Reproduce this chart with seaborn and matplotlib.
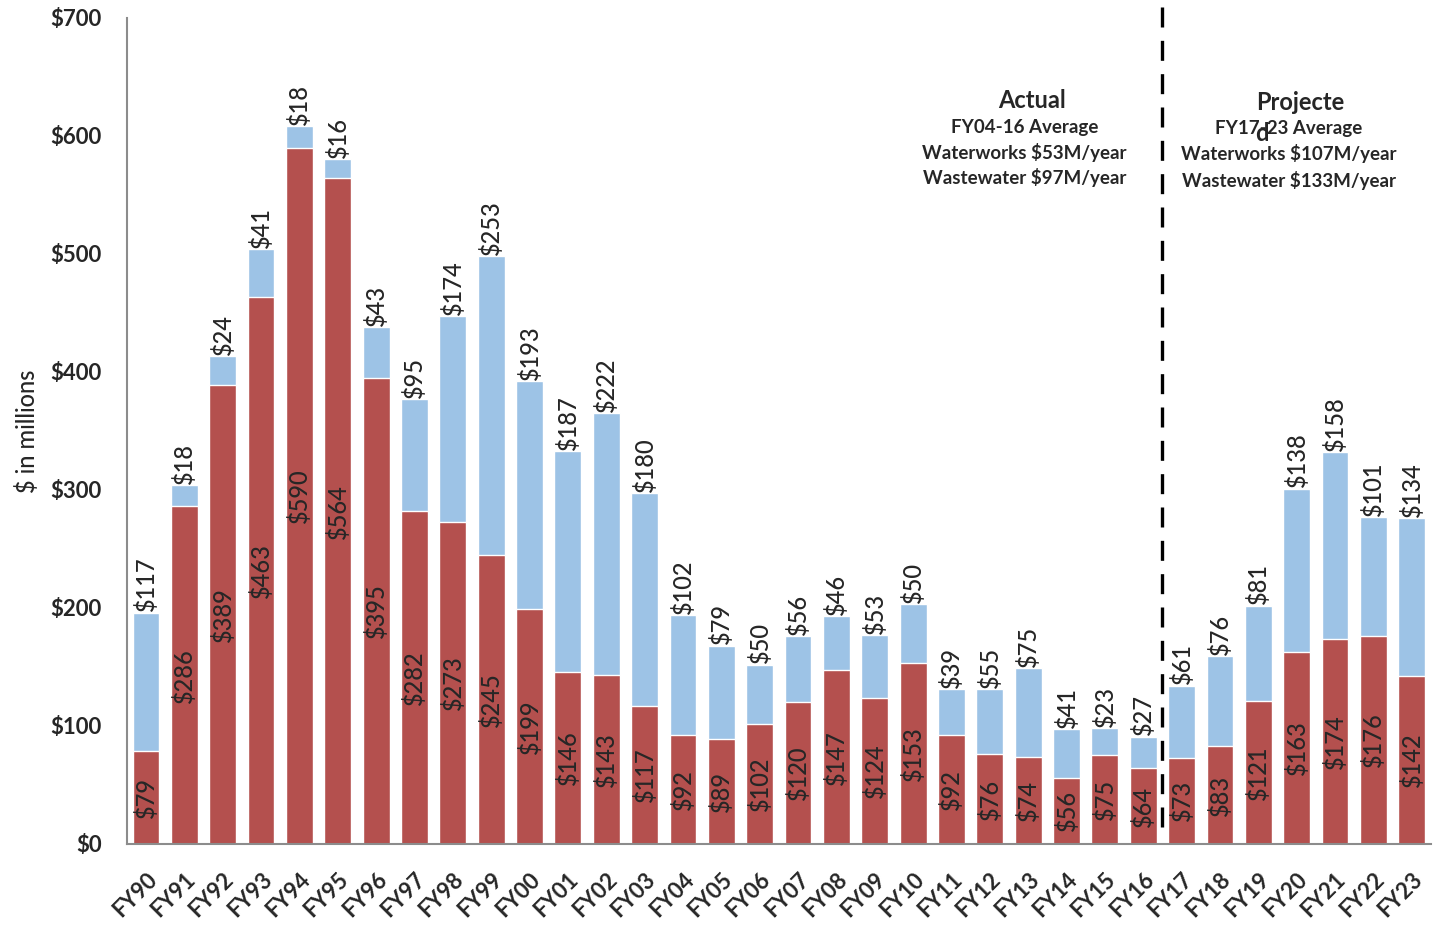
import numpy as np
import pandas as pd
import seaborn as sns
import matplotlib.pyplot as plt
from matplotlib.ticker import FuncFormatter, FixedLocator

sns.set_style("white")
plt.rcParams['font.family'] = ['Lato', 'DejaVu Sans']

years = ["FY90", "FY91", "FY92", "FY93", "FY94", "FY95", "FY96", "FY97", "FY98", "FY99",
         "FY00", "FY01", "FY02", "FY03", "FY04", "FY05", "FY06", "FY07", "FY08", "FY09",
         "FY10", "FY11", "FY12", "FY13", "FY14", "FY15", "FY16", "FY17", "FY18", "FY19",
         "FY20", "FY21", "FY22", "FY23"]
wastewater = [79, 286, 389, 463, 590, 564, 395, 282, 273, 245,
              199, 146, 143, 117, 92, 89, 102, 120, 147, 124,
              153, 92, 76, 74, 56, 75, 64, 73, 83, 121,
              163, 174, 176, 142]
waterworks = [117, 18, 24, 41, 18, 16, 43, 95, 174, 253,
              193, 187, 222, 180, 102, 79, 50, 56, 46, 53,
              50, 39, 55, 75, 41, 23, 27, 61, 76, 81,
              138, 158, 101, 134]

df = pd.DataFrame({"year": years, "wastewater": wastewater, "waterworks": waterworks})
df["total"] = df["wastewater"] + df["waterworks"]

red = "#B4504E"
blue = "#9DC3E6"

fig = plt.figure(figsize=(14.41, 9.3), dpi=100)
ax = fig.add_axes([0.088, 0.0925, 0.905, 0.8885])

sns.barplot(data=df, x="year", y="total", color=blue, width=0.7, saturation=1, ax=ax)
sns.barplot(data=df, x="year", y="wastewater", color=red, width=0.7, saturation=1, ax=ax)

blue_bars = ax.containers[0]
red_bars = ax.containers[1]
ax.bar_label(blue_bars, labels=[f"${v}" for v in waterworks], rotation=90,
             padding=1, fontsize=17, fontweight="medium")
ax.bar_label(red_bars, labels=[f"${v}" for v in wastewater], rotation=90,
             label_type="center", fontsize=17, fontweight="medium")

ax.set_ylim(0, 700)
ax.set_xlim(-0.5, len(years) - 0.5)
ax.yaxis.set_major_locator(FixedLocator(range(0, 701, 100)))
ax.yaxis.set_major_formatter(FuncFormatter(lambda v, p: f"${int(v)}"))
ax.set_ylabel("$ in millions", fontsize=17, labelpad=8, fontweight="medium")
ax.set_xlabel("")

for lab in ax.get_yticklabels():
    lab.set_fontweight("bold")
    lab.set_fontsize(16)
ax.tick_params(axis="y", length=6, color="#8c8c8c", width=1.2, pad=12)

ax.set_xticks(range(len(years)))
ax.set_xticklabels(years, rotation=45, ha="right", rotation_mode="anchor",
                   fontsize=16, fontweight="bold")
ax.tick_params(axis="x", which="major", length=0, pad=18)
ax.xaxis.set_minor_locator(FixedLocator(np.arange(-0.5, len(years), 2)))
ax.tick_params(axis="x", which="minor", length=6, color="#8c8c8c", width=1.2)

for s in ["top", "right"]:
    ax.spines[s].set_visible(False)
for s in ["left", "bottom"]:
    ax.spines[s].set_color("#8c8c8c")
    ax.spines[s].set_linewidth(1.5)

# divider between actual and projected years
ax.axvline(years.index("FY16") + 0.5, ymin=0.02, ymax=1.03, color="black", lw=2.4,
           linestyle=(0, (6, 4)), clip_on=False)

ax.text(23.1, 630, "Actual", ha="center", va="center", fontsize=17, fontweight="bold")
ax.text(22.9, 607, "FY04-16 Average", ha="center", va="center", fontsize=13.5, fontweight="bold")
ax.text(22.9, 586, "Waterworks $53M/year", ha="center", va="center", fontsize=13.5, fontweight="bold")
ax.text(22.9, 565, "Wastewater $97M/year", ha="center", va="center", fontsize=13.5, fontweight="bold")

ax.text(30.1, 628, "Projecte", ha="center", va="center", fontsize=17, fontweight="bold")
ax.text(29.8, 606, "FY17-23 Average", ha="center", va="center", fontsize=13.5, fontweight="bold")
ax.text(29.1, 602, "d", ha="center", va="center", fontsize=17, fontweight="bold")
ax.text(29.8, 585, "Waterworks $107M/year", ha="center", va="center", fontsize=13.5, fontweight="bold")
ax.text(29.8, 562, "Wastewater $133M/year", ha="center", va="center", fontsize=13.5, fontweight="bold")

fig.savefig("out.png", dpi=100)
